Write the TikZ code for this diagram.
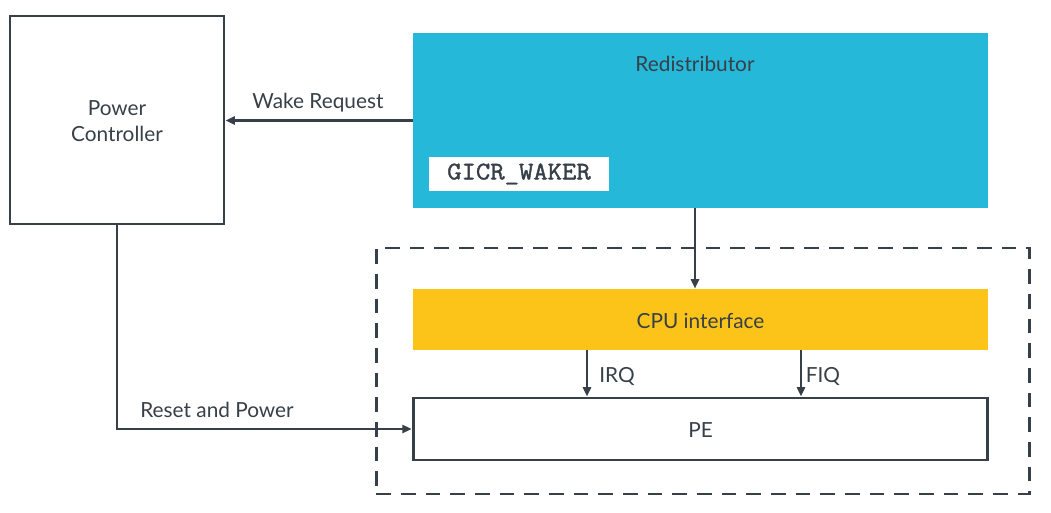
\documentclass[tikz,border=0pt]{standalone}
\usepackage{fontspec}
\setmainfont{Lato}
\newfontfamily\regfont[FakeBold=1.5,FakeStretch=1.1]{Latin Modern Mono}
\usepackage{xcolor}
\definecolor{Col1}{RGB}{55,63,72}
\definecolor{Col2}{RGB}{38,184,216}
\definecolor{Col3}{RGB}{252,196,25}
\usepackage{tikz}
\usetikzlibrary{arrows.meta}
\tikzstyle{Box}=[rectangle,draw=Col1,line width=2.2pt,inner sep=0pt]
\tikzstyle{Block}=[rectangle,inner sep=0pt]
\tikzstyle{Edge}=[draw=Col1,line width=1.9pt,-{Triangle[length=7pt,width=6pt]}]
\tikzstyle{NodeST}=[text=Col1,font=\fontsize{15.6}{19.5}\selectfont,align=center]

\begin{document}
\begin{tikzpicture}[x=.75pt,y=-.75pt]
        \useasboundingbox (0,0) rectangle (1051,513);
        \node[Box,minimum width=160.5pt,minimum height=156pt](pc)at(117,120){};
        \node[NodeST](pctxt)at(117,121){Power\\Controller};
        \node[Block,fill=Col2,minimum width=431pt,minimum height=131pt](red)at(700.5,120.5){};
        \node[NodeST](redtxt)at(695,64){Redistributor};
        \node[Block,fill=white,minimum width=135pt,minimum height=25.5pt](waker)at(519,174)
            {\regfont\color{Col1}\fontsize{19}{20}\selectfont GICR\_WAKER};
        \node[Box,dashed,dash pattern=on 11pt off 7.5pt,minimum width=490pt,minimum height=184.5pt](gic)at(703,371){};
        \node[Block,fill=Col3,minimum width=431pt,minimum height=46pt](cpu)at(700.5,319.5){};
        \node[NodeST](cputxt)at(700.5,321){CPU interface};
        \node[Box,minimum width=431pt,minimum height=46.5pt](pe)at(700.5,429){};
        \node[NodeST](petxt)at(700.5,430){PE};
        \coordinate(irq)at(587,0);
        \coordinate(fiq)at(801,0);
        \coordinate(gicin)at(695,0);
        \draw[Edge](red.west)--(pc.east|-red.west);
        \draw[Edge](gicin|-red.south)--(gicin|-cpu.north);
        \draw[Edge](irq|-cpu.south)--(irq|-pe.north);
        \draw[Edge](fiq|-cpu.south)--(fiq|-pe.north);
        \draw[Edge](pc.south)|-(pe.west);
        \node[NodeST](wake)at(318,103){Wake Request};
        \node[NodeST](reset)at(217,410){Reset and Power};
        \node[NodeST](irqtxt)at(617,377){IRQ};
        \node[NodeST](fiqtxt)at(823,377){FIQ};
    \end{tikzpicture}
\end{document}
